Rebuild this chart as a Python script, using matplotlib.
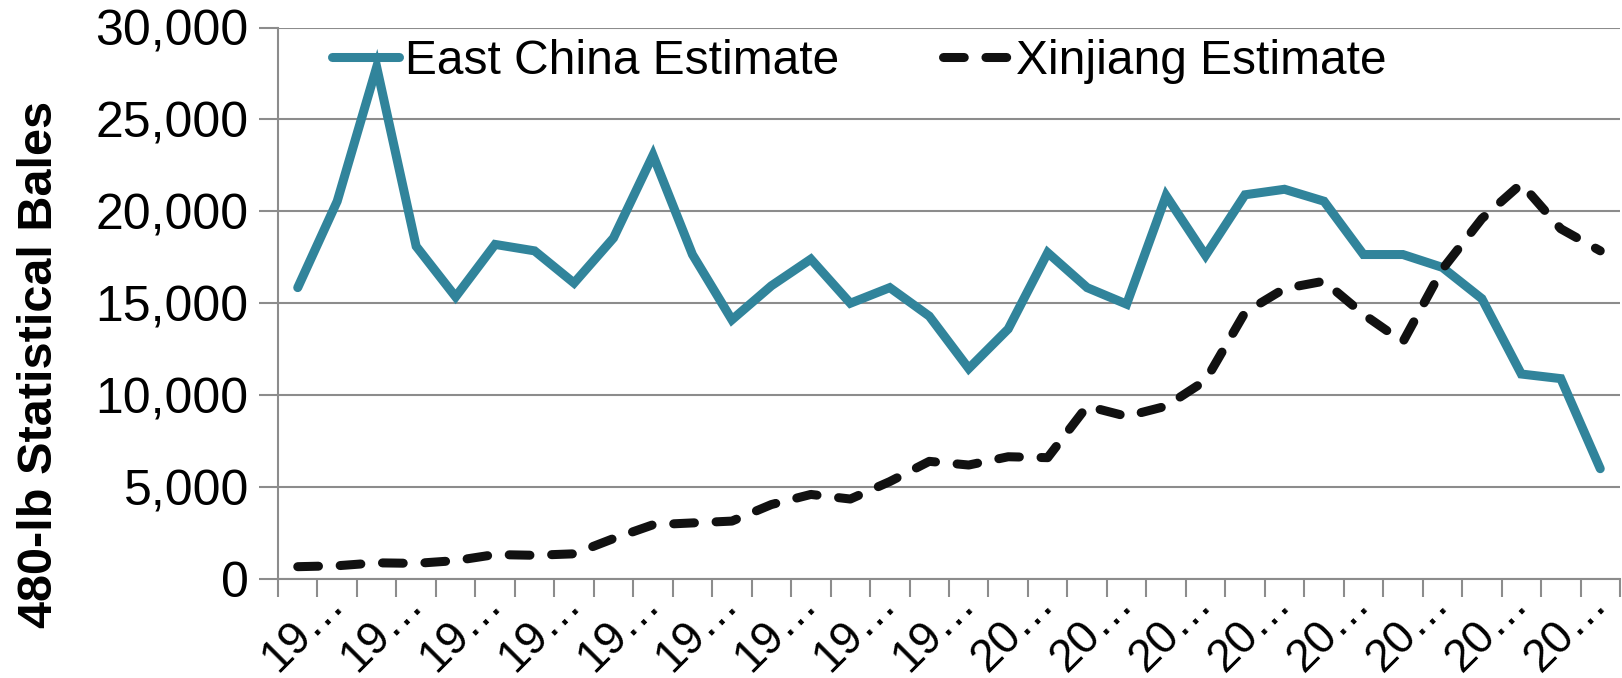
import matplotlib
matplotlib.use("Agg")
import matplotlib.pyplot as plt
import numpy as np
from matplotlib.ticker import FuncFormatter

# ------------------------------------------------
# DATA (480-lb statistical bales, thousands shown as units)
# ------------------------------------------------

years = ["1982/83", "1983/84", "1984/85", "1985/86", "1986/87", "1987/88",
         "1988/89", "1989/90", "1990/91", "1991/92", "1992/93", "1993/94",
         "1994/95", "1995/96", "1996/97", "1997/98", "1998/99", "1999/00",
         "2000/01", "2001/02", "2002/03", "2003/04", "2004/05", "2005/06",
         "2006/07", "2007/08", "2008/09", "2009/10", "2010/11", "2011/12",
         "2012/13", "2013/14", "2014/15", "2015/16"]

east_china = [15850, 20550, 27850, 18100, 15350, 18200, 17850, 16100,
              18550, 23050, 17650, 14100, 15950, 17400, 15000, 15850,
              14300, 11450, 13600, 17750, 15850, 14950, 20850, 17600,
              20900, 21200, 20550, 17650, 17650, 16950, 15250, 11150,
              10900, 6000]

xinjiang = [670, 720, 880, 850, 1000, 1330, 1290, 1370,
            2200, 2950, 3050, 3150, 4050, 4600, 4350, 5300,
            6400, 6200, 6650, 6600, 9400, 8850, 9400, 10800,
            14500, 15800, 16200, 14400, 12900, 16850, 19600, 21500,
            19050, 17850]

# short labels like the truncated category axis: "19…", "20…"
short_labels = [y[:2] + "\u2026" for y in years]

# ------------------------------------------------
# STYLE
# ------------------------------------------------

plt.rcParams["font.family"] = ["Liberation Sans", "DejaVu Sans"]
GRID = "#8c8c8c"
TEAL = "#31849B"
FS_TICK = 36
FS_LEG = 34.5

fig = plt.figure(figsize=(16.22, 6.78), dpi=100)
ax = fig.add_axes([278 / 1622, 1 - 579 / 678, (1620 - 278) / 1622, (579 - 27.5) / 678])

x = np.arange(len(years))

ax.plot(x, east_china, color=TEAL, lw=6.5, solid_capstyle="round",
        solid_joinstyle="miter", label="East China Estimate", zorder=3)
ax.plot(x, xinjiang, color="#111111", lw=6.5, linestyle=(0, (2.3, 2.4)),
        dash_capstyle="round", label="Xinjiang Estimate", zorder=4)

ax.set_xlim(-0.5, len(years) - 0.5)
ax.set_ylim(0, 30000)
ax.set_yticks(np.arange(0, 30001, 5000))
ax.yaxis.set_major_formatter(FuncFormatter(lambda v, p: f"{int(v):,}"))
ax.grid(axis="y", color=GRID, lw=1.5)
ax.set_axisbelow(True)

# tick marks between categories, labels on every other category
ax.set_xticks(np.arange(-0.5, len(years), 1))
ax.set_xticklabels([])
ax.set_xticks(x[1::2], minor=True)
ax.set_xticklabels(short_labels[1::2], minor=True, rotation=45,
                   ha="right", va="center", rotation_mode="anchor", fontsize=33)
ax.tick_params(axis="x", which="major", length=13, width=1.5, color=GRID)
ax.tick_params(axis="x", which="minor", length=0, pad=12)
ax.tick_params(axis="y", length=14, width=1.5, color=GRID, labelsize=FS_TICK, pad=7)

for side in ["top", "right"]:
    ax.spines[side].set_visible(False)
for side in ["left", "bottom"]:
    ax.spines[side].set_color(GRID)
    ax.spines[side].set_linewidth(1.5)

fig.text(40 / 1622, 1 - 364 / 678, "480-lb Statistical Bales", rotation=90,
         ha="center", va="center", fontsize=35, fontweight="bold")

ax.legend(loc="center left", bbox_to_anchor=(332 / 1622, 1 - 61 / 678),
          bbox_transform=fig.transFigure, ncol=2, frameon=False, fontsize=FS_LEG,
          handlelength=1.39, handletextpad=0.14, columnspacing=2.15,
          borderpad=0, borderaxespad=0)

fig.savefig("out.png", dpi=100)
